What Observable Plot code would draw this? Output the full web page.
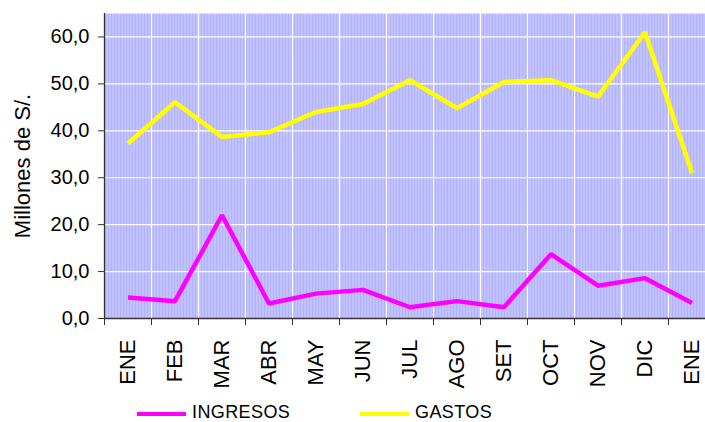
<!DOCTYPE html>
<html><head><meta charset="utf-8">
<script src="https://cdn.jsdelivr.net/npm/d3@7"></script>
<script src="https://cdn.jsdelivr.net/npm/@observablehq/plot@0.6"></script>
<style>
body{margin:0;background:#fff;font-family:Arial,"Liberation Sans",sans-serif;}
#wrap{position:relative;width:705px;height:422px;overflow:hidden;}
.leg{position:absolute;font-size:18px;color:#000;letter-spacing:0.4px;line-height:16px;}
.sw{position:absolute;height:4px;}
</style></head><body>
<div id="wrap"></div>
<script>
const months = ["ENE","FEB","MAR","ABR","MAY","JUN","JUL","AGO","SET","OCT","NOV","DIC","ENE"];
const ingresos = [4.5, 3.7, 22.0, 3.2, 5.3, 6.1, 2.4, 3.7, 2.4, 13.7, 7.0, 8.6, 3.3];
const gastos = [37.3, 46.1, 38.7, 39.7, 44.0, 45.7, 50.8, 44.8, 50.4, 50.8, 47.3, 61.0, 31.0];
const yTicks = [0, 10, 20, 30, 40, 50, 60];
const series = [{name:"INGRESOS", values: ingresos, color:"#ff00ff"}, {name:"GASTOS", values: gastos, color:"#ffff00"}];

const rows = series.flatMap(s => s.values.map((v, i) => ({i: i + 0.5, v, name: s.name})));
const idx = months.map((m, i) => i);

const chart = Plot.plot({
  width: 705, height: 422,
  marginLeft: 104, marginRight: 0, marginTop: 13, marginBottom: 104,
  style: {fontFamily: "Arial, 'Liberation Sans', sans-serif", background: "transparent", overflow: "hidden"},
  x: {type: "linear", domain: [0, months.length], range: [104, 715]},
  y: {domain: [0, 65]},
  color: {domain: series.map(s => s.name), range: series.map(s => s.color)},
  marks: [
    Plot.frame({fill: "url(#stripes)", stroke: null}),
    Plot.ruleY(yTicks.slice(1), {y: d => d, stroke: "#ffffff", strokeWidth: 1.2}),
    Plot.ruleX(idx.slice(1), {x: d => d, stroke: "#ffffff", strokeWidth: 1.2}),
    Plot.line(rows, {x: "i", y: "v", z: "name", stroke: "name", strokeWidth: 4.5, strokeLinejoin: "miter", strokeLinecap: "butt"}),
    Plot.ruleX([0], {stroke: "#333", strokeWidth: 1.3}),
    Plot.ruleY([0], {stroke: "#333", strokeWidth: 1.3}),
    Plot.axisY({ticks: yTicks, tickSize: 6, tickPadding: 9, tickFormat: d => d.toFixed(1).replace(".", ","), fontSize: 20, label: null, stroke: "#333"}),
    Plot.axisX({ticks: idx.concat([months.length]), tickSize: 7, tickFormat: () => "", label: null, stroke: "#333"}),
    Plot.axisX({ticks: idx.map(i => i + 0.5), tickSize: 0, tickPadding: 21, tickRotate: -90, tickFormat: d => months[Math.floor(d)], fontSize: 22, label: null}),
    Plot.text(["Millones de S/."], {frameAnchor: "left", textAnchor: "middle", dx: -82, rotate: -90, fontSize: 22, fill: "#000"})
  ]
});
const svg = d3.select(chart);
const defs = svg.insert("defs", ":first-child");
const pat = defs.append("pattern").attr("id", "stripes").attr("patternUnits", "userSpaceOnUse").attr("width", 3).attr("height", 3);
pat.append("rect").attr("width", 3).attr("height", 3).attr("fill", "#b3b3fb");
pat.append("rect").attr("x", 1).attr("width", 1).attr("height", 3).attr("fill", "#cfcfff");
svg.selectAll("text").attr("fill", "#000");
document.getElementById("wrap").appendChild(chart);

const wrap = document.getElementById("wrap");
const legPos = [{sx: 137, tx: 192}, {sx: 360, tx: 415}];
series.forEach((s, k) => {
  const sw = document.createElement("div");
  sw.className = "sw";
  sw.style.left = legPos[k].sx + "px"; sw.style.width = "49px"; sw.style.top = "412px"; sw.style.background = s.color;
  wrap.appendChild(sw);
  const t = document.createElement("div");
  t.className = "leg"; t.textContent = s.name;
  t.style.left = legPos[k].tx + "px"; t.style.top = "404px";
  wrap.appendChild(t);
});
</script>
</body></html>
